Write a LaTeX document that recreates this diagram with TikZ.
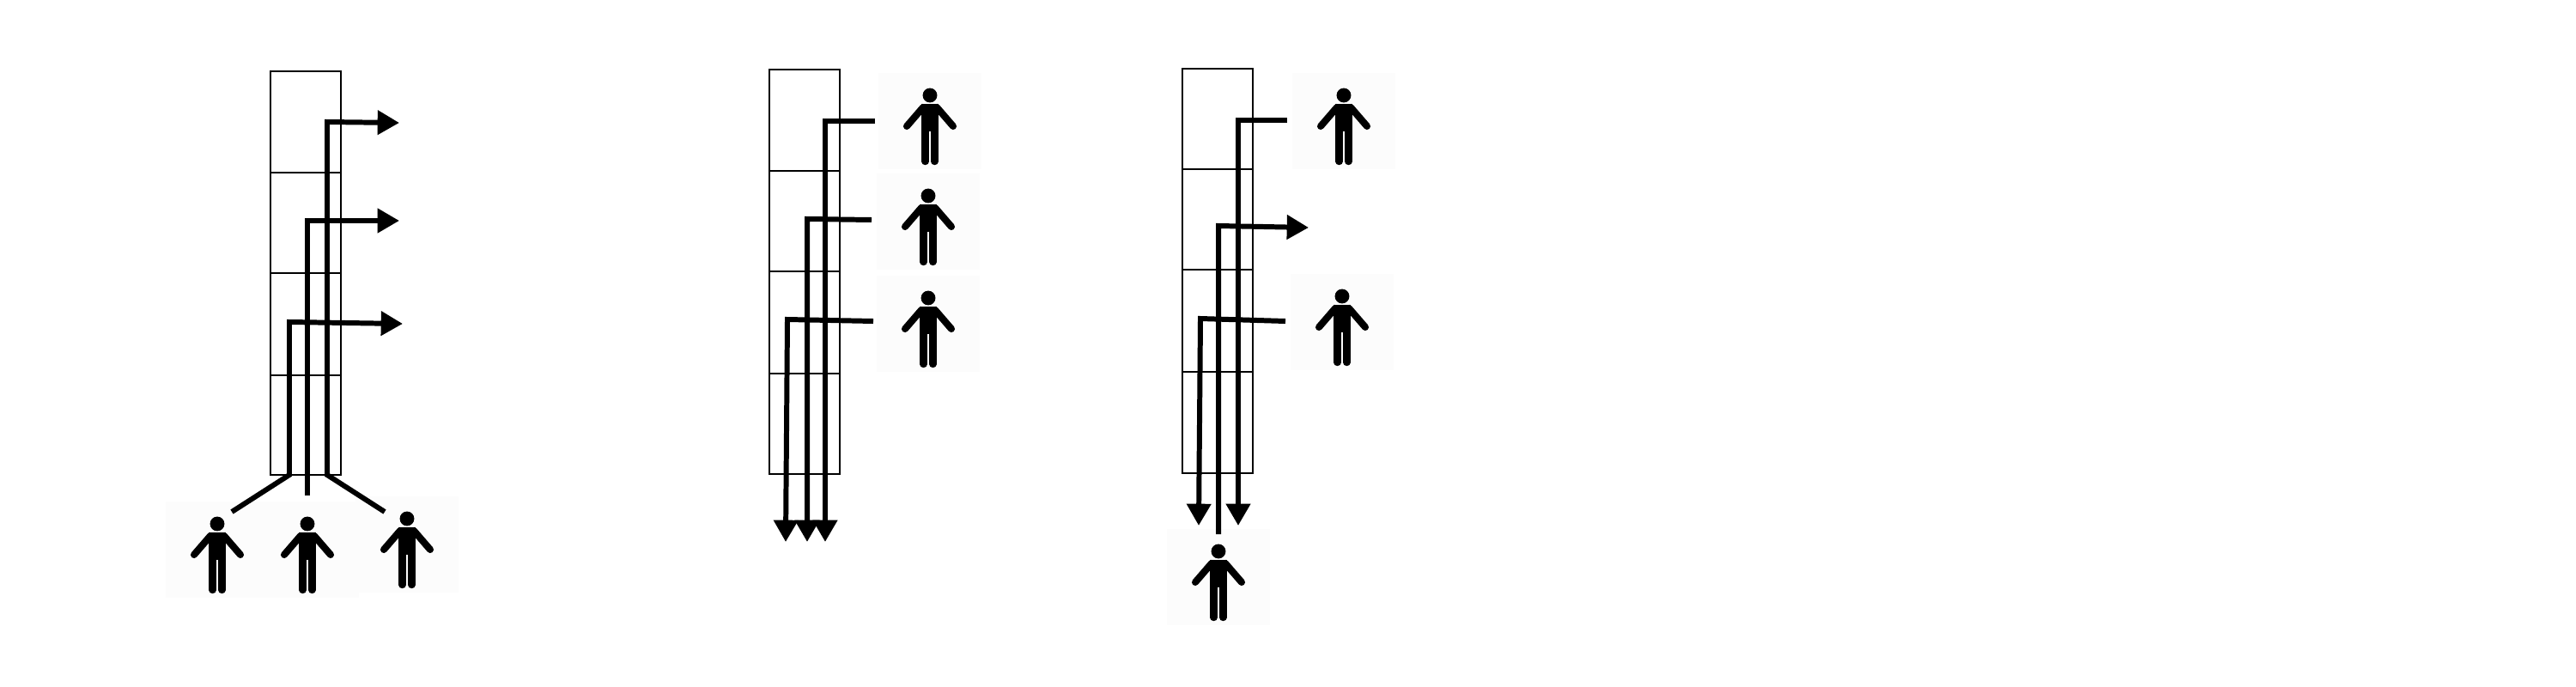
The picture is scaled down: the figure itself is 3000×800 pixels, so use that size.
\documentclass[tikz,border=0pt]{standalone}
\usetikzlibrary{arrows.meta}
\tikzset{
  cellbox/.style={draw, line width=0.65pt, minimum width=23.3mm*0.35, minimum height=0pt, inner sep=0pt, outer sep=0pt},
  personbox/.style={fill=black!1, minimum width=1.2cm, minimum height=1.12cm, inner sep=0pt, outer sep=0pt},
  flowline/.style={line width=1.7pt, line join=miter},
  flowarrow/.style={flowline, -{Triangle[length=7.2pt, width=7.8pt]}},
  armline/.style={line width=2.3pt, line cap=round},
  legline/.style={line width=2.4pt, line cap=round},
  person/.pic={
    \fill (0,-30) circle (2.4pt);
    \fill (-10,-20) -- (10,-20) -- (10,12) -- (-10,12) -- cycle;
    \draw[armline] (-8,-16) -- (-27,6);
    \draw[armline] (8,-16) -- (27,6);
    \draw[legline] (-5.4,8) -- (-5.4,47);
    \draw[legline] (5.4,8) -- (5.4,47);
  }
}
\begin{document}
\begin{tikzpicture}[x=0.01cm, y=-0.01cm]
    \useasboundingbox (0,0) rectangle (3000,800);
    % first column
    \node[cellbox, minimum height=1.18cm] (a1) at (356,142) {};
    \node[cellbox, minimum height=1.17cm] (a2) at (356,259.5) {};
    \node[cellbox, minimum height=1.19cm] (a3) at (356,377.5) {};
    \node[cellbox, minimum height=1.16cm] (a4) at (356,495) {};
    \node[personbox] (pa1) at (253,640) {};
    \node[personbox] (pa2) at (358,640) {};
    \node[personbox] (pa3) at (474,634) {};
    \pic at (pa1) {person};
    \pic at (pa2) {person};
    \pic at (pa3) {person};
    \coordinate (ua1) at (270,596);
    \coordinate (ua2) at (358,577);
    \coordinate (ua3) at (448,596);
    \coordinate (ba1) at (337,553);
    \coordinate (ba2) at (358,553);
    \coordinate (ba3) at (381,553);
    \coordinate (ta1) at (337,375);
    \coordinate (ta2) at (358,257);
    \coordinate (ta3) at (381,142);
    \coordinate (ea1) at (469,377);
    \coordinate (ea2) at (465,257);
    \coordinate (ea3) at (465,143);
    \draw[flowarrow] (ua1) -- (ba1) -- (ta1) -- (ea1);
    \draw[flowarrow] (ua2) -- (ba2) -- (ta2) -- (ea2);
    \draw[flowarrow] (ua3) -- (ba3) -- (ta3) -- (ea3);
    % second column
    \node[cellbox, minimum height=1.18cm] (b1) at (937,140) {};
    \node[cellbox, minimum height=1.17cm] (b2) at (937,257.5) {};
    \node[cellbox, minimum height=1.19cm] (b3) at (937,375.5) {};
    \node[cellbox, minimum height=1.17cm] (b4) at (937,493.5) {};
    \node[personbox] (pb1) at (1083,141) {};
    \node[personbox] (pb2) at (1081,258) {};
    \node[personbox] (pb3) at (1081,377) {};
    \pic at (pb1) {person};
    \pic at (pb2) {person};
    \pic at (pb3) {person};
    \coordinate (sb1) at (1019,141);
    \coordinate (sb2) at (1015,256);
    \coordinate (sb3) at (1017,374);
    \coordinate (tb1) at (961,141);
    \coordinate (tb2) at (940,255);
    \coordinate (tb3) at (917,372);
    \coordinate (eb1) at (961,631);
    \coordinate (eb2) at (940,631);
    \coordinate (eb3) at (915,631);
    \draw[flowarrow] (sb1) -- (tb1) -- (eb1);
    \draw[flowarrow] (sb2) -- (tb2) -- (eb2);
    \draw[flowarrow] (sb3) -- (tb3) -- (eb3);
    % third column
    \node[cellbox, minimum height=1.17cm] (c1) at (1418,138.5) {};
    \node[cellbox, minimum height=1.17cm] (c2) at (1418,255.5) {};
    \node[cellbox, minimum height=1.19cm] (c3) at (1418,373.5) {};
    \node[cellbox, minimum height=1.18cm] (c4) at (1418,492) {};
    \node[personbox] (pc1) at (1565,141) {};
    \node[personbox] (pc2) at (1563,375) {};
    \node[personbox] (pc3) at (1419,672) {};
    \pic at (pc1) {person};
    \pic at (pc2) {person};
    \pic at (pc3) {person};
    \coordinate (sc1) at (1499,140);
    \coordinate (uc2) at (1419,622);
    \coordinate (sc3) at (1497,374);
    \coordinate (tc1) at (1442,140);
    \coordinate (tc2) at (1419,263);
    \coordinate (tc3) at (1398,371);
    \coordinate (ec1) at (1442,612);
    \coordinate (ec2) at (1524,265);
    \coordinate (ec3) at (1396,612);
    \draw[flowarrow] (sc1) -- (tc1) -- (ec1);
    \draw[flowarrow] (uc2) -- (tc2) -- (ec2);
    \draw[flowarrow] (sc3) -- (tc3) -- (ec3);
\end{tikzpicture}
\end{document}
